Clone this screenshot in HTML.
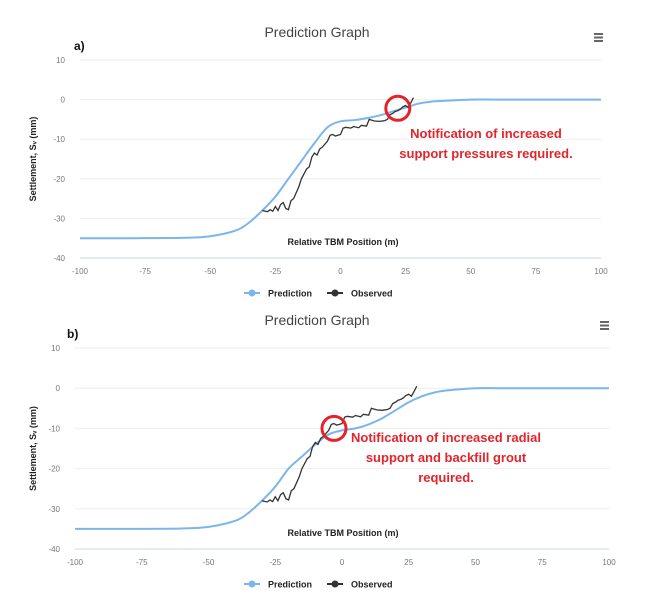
<!DOCTYPE html>
<html><head><meta charset="utf-8"><style>
body{margin:0;background:#fff;width:666px;height:598px;overflow:hidden;font-family:"Liberation Sans",sans-serif}
svg text{font-family:"Liberation Sans",sans-serif}
</style></head><body>
<svg id="root" width="666" height="598"></svg>
<script>
const xTicks=[-100,-75,-50,-25,0,25,50,75,100];
const yTicks=[10,0,-10,-20,-30,-40];
const predX=[-100,-80,-60,-50,-40,-35,-30,-25,-20,-15,-10,-5,0,5,10,15,20,25,30,35,40,50,60,80,100];
const predA=[-35,-35,-34.9,-34.5,-33,-31,-28,-24.5,-20,-15.5,-11,-7,-5.5,-5.2,-4.7,-4,-3,-2,-1,-0.5,-0.3,0,0,0,0];
const predB=[-35,-35,-34.9,-34.5,-33,-31,-28,-24.5,-20,-17,-14,-11.5,-10.5,-10,-9,-7.5,-5.5,-3.5,-2,-1,-0.5,0,0,0,0];
const obsX=[-30,-28,-27,-26,-25,-24,-23,-22,-21,-20,-19,-18,-16,-15,-13,-12,-11,-10,-9,-8,-7,-5,-4,-3,-2,0,1,2,4,5,7,8,10,11,13,15,17,18,19,20,21,22,23,24,25,26,27,28];
const obsY=[-28,-28.3,-27.8,-28.2,-27,-28,-26.5,-26,-27.5,-27.8,-25.5,-25,-22,-20,-17.5,-17,-14.5,-13.5,-14,-12.5,-12,-10.5,-9,-8.8,-9.2,-8.8,-7.2,-7,-7.2,-6.8,-7.1,-6.5,-6.7,-5,-5.4,-5.5,-5.3,-5,-3.8,-3.5,-3,-2.8,-2.4,-1.8,-1.5,-2,-0.8,0.5];
const NS="http://www.w3.org/2000/svg";
const root=document.getElementById('root');
function el(tag,attrs,parent,txt){const e=document.createElementNS(NS,tag);for(const k in attrs)e.setAttribute(k,attrs[k]);if(txt!==undefined)e.textContent=txt;(parent||root).appendChild(e);return e;}
function smooth(pts){
  let d='M'+pts[0][0]+','+pts[0][1];
  for(let i=0;i<pts.length-1;i++){
    const p0=pts[Math.max(0,i-1)],p1=pts[i],p2=pts[i+1],p3=pts[Math.min(pts.length-1,i+2)];
    const c1=[p1[0]+(p2[0]-p0[0])/6,p1[1]+(p2[1]-p0[1])/6];
    const c2=[p2[0]-(p3[0]-p1[0])/6,p2[1]-(p3[1]-p1[1])/6];
    d+=`C${c1[0]},${c1[1]} ${c2[0]},${c2[1]} ${p2[0]},${p2[1]}`;
  }
  return d;
}
function chart(cfg){
  const g=el('g',{});
  
  
  const sx=v=>cfg.x0+(v+100)/200*(cfg.x1-cfg.x0);
  const sy=v=>cfg.y0+(10-v)/50*(cfg.y1-cfg.y0);
  const t=el('text',{x:317,y:cfg.titleY,'text-anchor':'middle','font-size':14,fill:'#444'},g,'Prediction Graph');
  
  
  const lab=el('text',{x:cfg.labX,y:cfg.labY,'font-size':12,'font-weight':'bold',fill:'#111'},g,cfg.label);
  
  
  const menu=el('g',{},g);
  
  
  for(let i=0;i<3;i++)el('rect',{x:cfg.menuX,y:cfg.menuY+i*3.5,width:9,height:2,fill:'#666'},menu);
  yTicks.forEach(v=>{
    const gl=el('line',{x1:cfg.x0,x2:cfg.x1,y1:sy(v),y2:sy(v),stroke:v===-40?'#ccd6eb':'#eee','stroke-width':1},g);
    
    
    const tl=el('text',{x:cfg.x0-15,y:sy(v)+3,'text-anchor':'end','font-size':8,fill:'#777'},g,String(v));
    
    
  });
  xTicks.forEach(v=>{
    const tl=el('text',{x:sx(v),y:sy(-40)+16,'text-anchor':'middle','font-size':8,fill:'#777'},g,String(v));
    
    
  });
  const yt=el('text',{transform:`translate(36,${(sy(10)+sy(-40))/2}) rotate(-90)`,'text-anchor':'middle','font-size':9,'font-weight':'bold',fill:'#222'},g,'Settlement, Sᵥ (mm)');
  
  
  const xt=el('text',{x:343,y:sy(-40)-13,'text-anchor':'middle','font-size':9,'font-weight':'bold',fill:'#222'},g,'Relative TBM Position (m)');
  
  
  const pp=el('path',{d:smooth(predX.map((x,i)=>[sx(x),sy(cfg.pred[i])])),fill:'none',stroke:'#7cb5ec','stroke-width':2},g);
  
  
  const op=el('path',{d:obsX.map((x,i)=>(i?'L':'M')+sx(x)+','+sy(obsY[i])).join(''),fill:'none',stroke:'#333','stroke-width':1.3},g);
  
  
  const c=el('circle',{cx:sx(cfg.circX),cy:sy(cfg.circY),r:12,fill:'none',stroke:'#e3242b','stroke-width':3},g);
  
  
  cfg.note.forEach((ln,i)=>{
    const n=el('text',{x:cfg.noteX,y:cfg.noteY+i*20,'text-anchor':'middle','font-size':13,'font-weight':'bold',fill:'#e3242b'},g,ln);
    
    
  });
  const lg=el('g',{},g);
  
  
  const ly=cfg.legY;
  const e1=el('g',{},lg);
  
  
  el('line',{x1:244,x2:260,y1:ly,y2:ly,stroke:'#7cb5ec','stroke-width':2},e1);
  el('circle',{cx:252,cy:ly,r:3.5,fill:'#7cb5ec'},e1);
  el('text',{x:268,y:ly+3.5,'font-size':9,'font-weight':'bold',fill:'#222'},e1,'Prediction');
  const e2=el('g',{},lg);
  
  
  el('line',{x1:327,x2:343,y1:ly,y2:ly,stroke:'#333','stroke-width':2},e2);
  el('circle',{cx:335,cy:ly,r:3.5,fill:'#333'},e2);
  el('text',{x:351,y:ly+3.5,'font-size':9,'font-weight':'bold',fill:'#222'},e2,'Observed');
}
chart({name:'chart-a',x0:80,x1:601,y0:60,y1:258,pred:predA,titleY:37,label:'a)',labX:74,labY:50,menuX:594,menuY:33,circX:22,circY:-2.2,note:['Notification of increased','support pressures required.'],noteX:486,noteY:138,legY:293});
chart({name:'chart-b',x0:75,x1:609,y0:348,y1:549,pred:predB,titleY:325,label:'b)',labX:67,labY:338,menuX:600,menuY:321,circX:-3,circY:-10,note:['Notification of increased radial','support and backfill grout','required.'],noteX:446,noteY:442,legY:584});
</script>
</body></html>
